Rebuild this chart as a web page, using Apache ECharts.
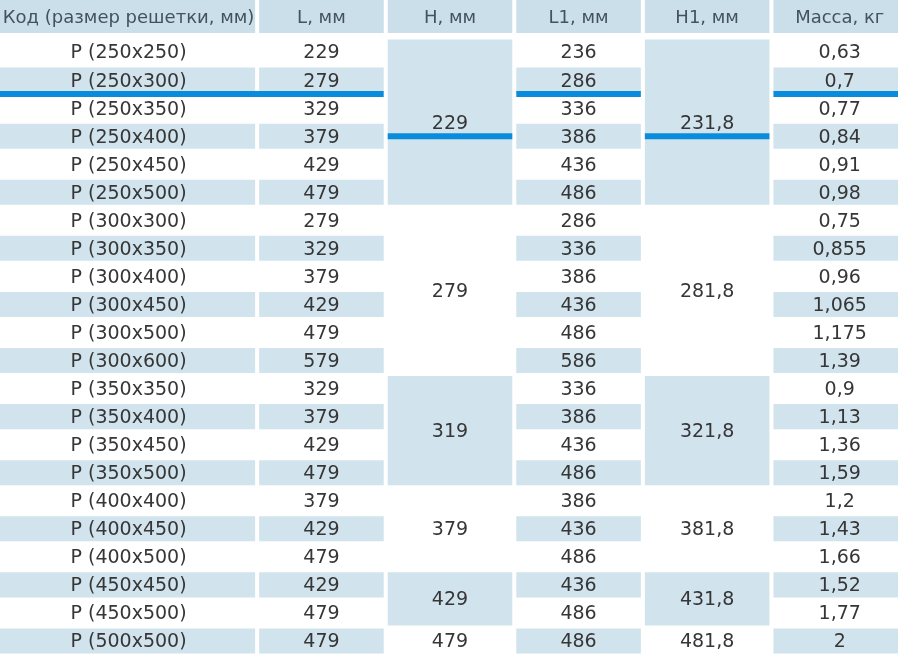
<!DOCTYPE html>
<html><head><meta charset="utf-8">
<script src="https://cdn.jsdelivr.net/npm/echarts@6/dist/echarts.min.js"></script>
<style>html,body{margin:0;padding:0;background:#fff}#c{width:900px;height:663px}</style>
</head><body><div id="c"></div>
<script>
// ---- data ----
var headers = ['Код (размер решетки, мм)', 'L, мм', 'H, мм', 'L1, мм', 'H1, мм', 'Масса, кг'];
var codes = ['Р (250x250)','Р (250x300)','Р (250x350)','Р (250x400)','Р (250x450)','Р (250x500)',
  'Р (300x300)','Р (300x350)','Р (300x400)','Р (300x450)','Р (300x500)','Р (300x600)',
  'Р (350x350)','Р (350x400)','Р (350x450)','Р (350x500)',
  'Р (400x400)','Р (400x450)','Р (400x500)',
  'Р (450x450)','Р (450x500)',
  'Р (500x500)'];
var L = [229,279,329,379,429,479, 279,329,379,429,479,579, 329,379,429,479, 379,429,479, 429,479, 479];
var L1 = [236,286,336,386,436,486, 286,336,386,436,486,586, 336,386,436,486, 386,436,486, 436,486, 486];
var mass = [0.63,0.7,0.77,0.84,0.91,0.98, 0.75,0.855,0.96,1.065,1.175,1.39, 0.9,1.13,1.36,1.59, 1.2,1.43,1.66, 1.52,1.77, 2];
var H = [229, 279, 319, 379, 429, 479];
var H1 = [231.8, 281.8, 321.8, 381.8, 431.8, 481.8];
var groupSizes = [6, 6, 4, 3, 2, 1];
// highlight underlines: [first column, last column, row boundary]
var marks = [[0,1,2],[3,3,2],[5,5,2],[2,2,3.5],[4,4,3.5]];

// ---- layout helpers (column units: first column spans 2) ----
var colEdges = [0, 2, 3, 4, 5, 6, 7];
var HEAD_TOP = -1.355, HEAD_BOT = -0.18;
function fmt(v){ return String(v).replace('.', ','); }

var cells = [];
headers.forEach(function(h, c){
  cells.push({c0:c, c1:c, r0:HEAD_TOP, r1:HEAD_BOT, text:h, kind:'head'});
});
function addRowCol(col, arr, f){
  arr.forEach(function(v, i){
    cells.push({c0:col, c1:col, r0:i, r1:i+1, text:f ? f(v) : String(v), kind: (i % 2 === 1) ? 'blue' : 'white'});
  });
}
addRowCol(0, codes);
addRowCol(1, L);
addRowCol(3, L1);
addRowCol(5, mass, fmt);
function addGroups(col, arr, f){
  var start = 0;
  arr.forEach(function(v, g){
    cells.push({c0:col, c1:col, r0:start, r1:start + groupSizes[g], text:f ? f(v) : String(v), kind: (g % 2 === 0) ? 'blue' : 'white'});
    start += groupSizes[g];
  });
}
addGroups(2, H);
addGroups(4, H1, fmt);

var FILL = {head:'#cadfea', blue:'#d1e3ed', white:'#ffffff'};
var FONT = 'DejaVu Sans';

function renderCell(params, api){
  var cell = cells[params.dataIndex];
  var xa = colEdges[cell.c0], xb = colEdges[cell.c1 + 1];
  var p0 = api.coord([xa, cell.r0]);
  var p1 = api.coord([xb, cell.r1]);
  var x0 = xa === 0 ? p0[0] : p0[0] + 2;
  var x1 = p1[0] - 2;
  var y0, y1;
  if (cell.kind === 'head') { y0 = 0; y1 = p1[1]; }
  else { y0 = p0[1] + 1.5; y1 = p1[1] - 1.5; }
  var cx = (p0[0] + p1[0]) / 2;
  if (cell.c0 === 5) cx = (p0[0] + 900) / 2 + 4;
  var cy = (p0[1] + p1[1]) / 2;
  var isHead = cell.kind === 'head';
  if (isHead) cy = (y0 + y1) / 2;
  return {
    type: 'group',
    children: [
      {type:'rect', shape:{x:x0, y:y0, width:x1 - x0, height:y1 - y0}, style:{fill:FILL[cell.kind]}},
      {type:'text', style:{x:cx, y:cy + 1.5, text:cell.text, fill: isHead ? '#45525d' : '#363636',
        font:(isHead ? '18px' : '19px') + ' "' + FONT + '"', align:'center', verticalAlign:'middle'}}
    ]
  };
}

function renderMark(params, api){
  var m = marks[params.dataIndex];
  var xa = colEdges[m[0]], xb = colEdges[m[1] + 1];
  var p0 = api.coord([xa, m[2]]);
  var p1 = api.coord([xb, m[2]]);
  var x0 = xa === 0 ? p0[0] : p0[0] + 2;
  var x1 = p1[0] - 2;
  return {type:'rect', shape:{x:x0, y:p0[1] - 3, width:x1 - x0, height:6}, style:{fill:'#0a8cdc'}};
}

var chart = echarts.init(document.getElementById('c'));
chart.setOption({
  animation: false,
  grid: {left:0, top:0, width:910, height:655},
  xAxis: {type:'value', min:0, max:7, show:false},
  yAxis: {type:'value', min:HEAD_TOP, max:22, inverse:true, show:false},
  series: [
    {type:'custom', renderItem:renderCell, clip:false, data: cells.map(function(c){ return [colEdges[c.c0], c.r0]; })},
    {type:'custom', renderItem:renderMark, clip:false, z:5, data: marks.map(function(m){ return [colEdges[m[0]], m[2]]; })}
  ]
});
</script></body></html>
